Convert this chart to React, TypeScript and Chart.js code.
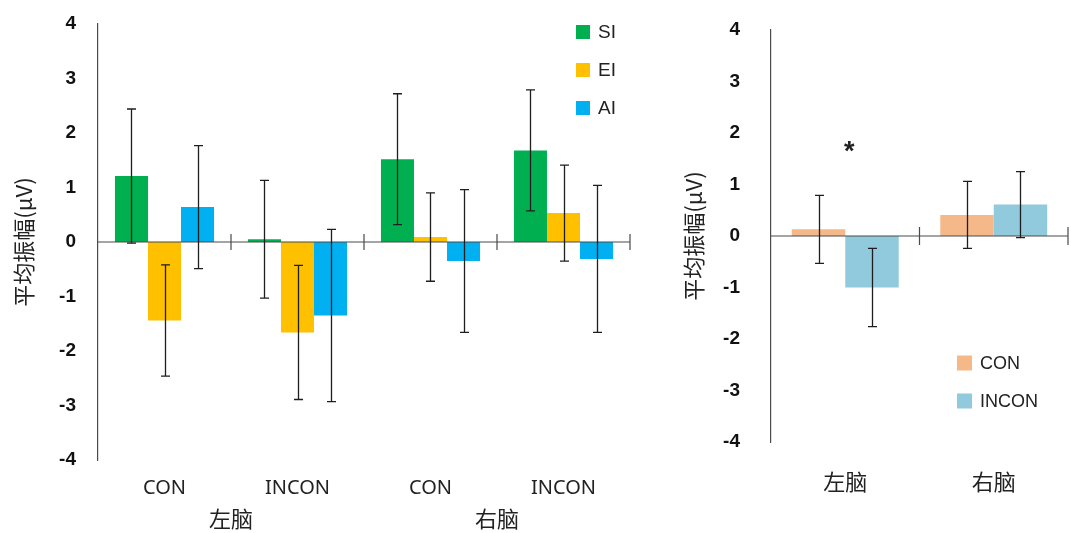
import { useEffect, useRef } from 'react';
import { Chart, registerables } from 'chart.js';

Chart.register(...registerables);

// Left panel: interference type (SI / EI / AI) by condition, split by hemisphere
const conditionLabels = ['CON', 'INCON', 'CON', 'INCON'];
const hemisphereLabels = ['左脑', '右脑'];
const siMeans = [1.21, 0.05, 1.52, 1.68];
const siErrors = [1.23, 1.08, 1.2, 1.11];
const eiMeans = [-1.44, -1.66, 0.09, 0.53];
const eiErrors = [1.02, 1.23, 0.81, 0.88];
const aiMeans = [0.64, -1.35, -0.35, -0.31];
const aiErrors = [1.13, 1.58, 1.31, 1.35];

// Right panel: condition by hemisphere
const conMeans = [0.13, 0.41];
const conErrors = [0.66, 0.65];
const inconMeans = [-1.0, 0.61];
const inconErrors = [0.76, 0.64];
const significanceMarks = ['*', ''];
const significanceLevel = 1.62;

const yMin = -4;
const yMax = 4;
const yTitle = '平均振幅(μV)';

const LATIN = '"Liberation Sans", Arial, sans-serif';
const LABEL = '"Noto Sans", "Noto Sans CJK SC", sans-serif';
const CJK = '"Noto Sans CJK SC", "Noto Sans", sans-serif';
const AXIS_COLOR = '#4a4a4a';
const TEXT_COLOR = '#222';

type Legend = { left: number; top: number; gap: number; box: number; fontSize: number };

// Zero line with boundary ticks, error bars, legend and significance marks
function makeDecor(
  errors: number[][],
  tickHalf: number,
  legend: Legend,
  marks?: string[],
  markLevel?: number
) {
  return {
    id: 'decor',
    afterDatasetsDraw(chart: any) {
      const { ctx, chartArea, scales } = chart;
      const xs = scales.x;
      const ys = scales.y;
      const y0 = ys.getPixelForValue(0);
      const n = chart.data.labels.length;
      ctx.save();

      // zero line and category boundary ticks
      ctx.strokeStyle = AXIS_COLOR;
      ctx.lineWidth = 1.2;
      ctx.beginPath();
      ctx.moveTo(chartArea.left, y0);
      ctx.lineTo(chartArea.right, y0);
      for (let i = 1; i <= n; i++) {
        const bx =
          i < n ? (xs.getPixelForValue(i - 1) + xs.getPixelForValue(i)) / 2 : chartArea.right;
        ctx.moveTo(bx, y0 - tickHalf);
        ctx.lineTo(bx, y0 + tickHalf);
      }
      ctx.stroke();

      // error bars
      ctx.strokeStyle = '#1e1e1e';
      ctx.lineWidth = 1.3;
      chart.data.datasets.forEach((ds: any, di: number) => {
        const meta = chart.getDatasetMeta(di);
        meta.data.forEach((bar: any, j: number) => {
          const v = ds.data[j];
          const e = errors[di][j];
          const top = ys.getPixelForValue(v + e);
          const bot = ys.getPixelForValue(v - e);
          const cx = Math.round(bar.x) + 0.5;
          ctx.beginPath();
          ctx.moveTo(cx, top);
          ctx.lineTo(cx, bot);
          ctx.moveTo(cx - 4.5, top);
          ctx.lineTo(cx + 4.5, top);
          ctx.moveTo(cx - 4.5, bot);
          ctx.lineTo(cx + 4.5, bot);
          ctx.stroke();
        });
      });

      // legend
      ctx.font = `${legend.fontSize}px ${LATIN}`;
      ctx.textBaseline = 'middle';
      ctx.textAlign = 'left';
      chart.data.datasets.forEach((ds: any, di: number) => {
        const cy = chartArea.top + legend.top + di * legend.gap;
        const lx = chartArea.left + legend.left;
        ctx.fillStyle = ds.backgroundColor;
        ctx.fillRect(lx, cy - legend.box / 2, legend.box, legend.box);
        ctx.fillStyle = TEXT_COLOR;
        ctx.fillText(ds.label, lx + legend.box + 8, cy + 1);
      });

      // significance marks
      if (marks && markLevel !== undefined) {
        ctx.font = `bold 27px ${LATIN}`;
        ctx.textAlign = 'center';
        ctx.textBaseline = 'middle';
        ctx.fillStyle = TEXT_COLOR;
        marks.forEach((m, i) => {
          if (m) ctx.fillText(m, xs.getPixelForValue(i) + 4, ys.getPixelForValue(markLevel));
        });
      }
      ctx.restore();
    },
  };
}

function yScale(width: number, tickPad: number, titlePad: number) {
  return {
    min: yMin,
    max: yMax,
    ticks: {
      stepSize: 1,
      padding: tickPad,
      color: '#111',
      font: { family: LATIN, size: 19, weight: 'bold' as const },
    },
    grid: { display: false, drawTicks: false },
    border: { display: true, color: AXIS_COLOR, width: 1.2 },
    title: {
      display: true,
      text: yTitle,
      color: TEXT_COLOR,
      font: { family: CJK, size: 22 },
      padding: { top: titlePad, bottom: 0 },
    },
    afterFit(s: any) {
      s.width = width;
      s.paddingTop = 0;
      s.paddingBottom = 0;
    },
  };
}

function LeftPanel() {
  const ref = useRef<HTMLCanvasElement>(null);
  useEffect(() => {
    const common = { categoryPercentage: 0.745, barPercentage: 1 };
    const chart = new Chart(ref.current!, {
      type: 'bar',
      data: {
        labels: conditionLabels,
        datasets: [
          { label: 'SI', data: siMeans, backgroundColor: '#00B050', ...common },
          { label: 'EI', data: eiMeans, backgroundColor: '#FFC000', ...common },
          { label: 'AI', data: aiMeans, backgroundColor: '#00B0F0', ...common },
        ],
      },
      options: {
        animation: false,
        responsive: false,
        layout: { padding: { top: 24, right: 25, bottom: 0, left: 0 } },
        plugins: { legend: { display: false }, tooltip: { enabled: false } },
        scales: {
          x: {
            position: 'bottom',
            weight: 0,
            grid: { display: false, drawTicks: false },
            border: { display: false },
            ticks: {
              padding: 16,
              color: TEXT_COLOR,
              maxRotation: 0,
              autoSkip: false,
              font: { family: LABEL, size: 20 },
            },
            afterFit(s: any) {
              s.height = 40;
            },
          },
          x2: {
            type: 'category',
            labels: hemisphereLabels,
            position: 'bottom',
            weight: 1,
            offset: true,
            grid: { display: false, drawTicks: false },
            border: { display: false },
            ticks: { padding: 5, color: TEXT_COLOR, font: { family: CJK, size: 22 } },
            afterFit(s: any) {
              s.height = 33;
            },
          },
          y: yScale(98, 22, 10),
        } as any,
      },
      plugins: [
        makeDecor([siErrors, eiErrors, aiErrors], 8, {
          left: 478,
          top: 8,
          gap: 38,
          box: 14,
          fontSize: 19,
        }),
      ],
    });
    return () => chart.destroy();
  }, []);
  return <canvas ref={ref} width={655} height={533} />;
}

function RightPanel() {
  const ref = useRef<HTMLCanvasElement>(null);
  useEffect(() => {
    const common = { categoryPercentage: 0.72, barPercentage: 1 };
    const chart = new Chart(ref.current!, {
      type: 'bar',
      data: {
        labels: hemisphereLabels,
        datasets: [
          { label: 'CON', data: conMeans, backgroundColor: '#F5B888', ...common },
          { label: 'INCON', data: inconMeans, backgroundColor: '#90CADC', ...common },
        ],
      },
      options: {
        animation: false,
        responsive: false,
        layout: { padding: { top: 30, right: 3, bottom: 0, left: 0 } },
        plugins: { legend: { display: false }, tooltip: { enabled: false } },
        scales: {
          x: {
            position: 'bottom',
            grid: { display: false, drawTicks: false },
            border: { display: false },
            ticks: { padding: 26, color: TEXT_COLOR, font: { family: CJK, size: 22 } },
            afterFit(s: any) {
              s.height = 91;
            },
          },
          y: yScale(116, 31, 25),
        } as any,
      },
      plugins: [
        makeDecor(
          [conErrors, inconErrors],
          9,
          { left: 186, top: 333, gap: 38, box: 15, fontSize: 18 },
          significanceMarks,
          significanceLevel
        ),
      ],
    });
    return () => chart.destroy();
  }, []);
  return <canvas ref={ref} width={416} height={533} />;
}

export default function App() {
  return (
    <div
      style={{
        position: 'fixed',
        left: 0,
        top: 0,
        width: 1071,
        height: 533,
        background: '#fff',
        overflow: 'hidden',
      }}
    >
      <div style={{ position: 'absolute', left: 0, top: 0, width: 655, height: 533 }}>
        <LeftPanel />
      </div>
      <div style={{ position: 'absolute', left: 655, top: 0, width: 416, height: 533 }}>
        <RightPanel />
      </div>
    </div>
  );
}
